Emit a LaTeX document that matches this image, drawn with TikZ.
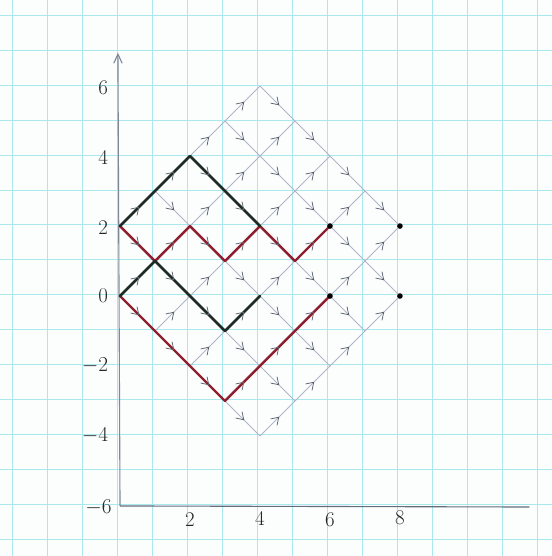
\documentclass[tikz,border=0pt]{standalone}
\usetikzlibrary{arrows.meta,decorations.markings}
\definecolor{gridc}{HTML}{A8E8EE}
\definecolor{latc}{HTML}{AEB6C6}
\definecolor{arrc}{HTML}{5A606C}
\definecolor{redp}{HTML}{8E1F2E}
\definecolor{blkp}{HTML}{1E2B24}
\definecolor{axc}{HTML}{7E8898}
\definecolor{paper}{HTML}{FCFEFE}
\begin{document}
\begin{tikzpicture}[x=1cm,y=1cm,
  gridline/.style={draw=gridc, line width=0.8pt},
  lat/.style={draw=latc, line width=0.7pt},
  midarrow/.style={postaction={decorate,decoration={markings,
      mark=at position 0.55 with {\arrow[arrc,line width=0.6pt]{Straight Barb[length=2mm,width=2.6mm]}}}}},
  redpath/.style={draw=redp, line width=2pt, line join=round, line cap=round},
  blkpath/.style={draw=blkp, line width=2.2pt, line join=round, line cap=round},
  axisline/.style={draw=axc, line width=0.9pt},
  dotmark/.style={circle, fill=black, inner sep=0pt, minimum size=1.6mm},
  lbl/.style={font=\fontsize{17}{17}\selectfont, text=black!85, inner sep=1pt}]
\useasboundingbox (-3.43,-7.43) rectangle (12.34,8.46);
\fill[paper] (-3.43,-7.43) rectangle (12.34,8.46);
% grid paper
\foreach \i in {-3,...,12}{\draw[gridline] (\i-0.08,-7.43) -- (\i-0.08,8.46);}
\foreach \j in {-7,...,8}{\draw[gridline] (-3.43,\j+0.03) -- (12.34,\j+0.03);}
% lattice points
\foreach \x in {0,...,8}{\foreach \y in {-4,...,6}{\coordinate (v\x_\y) at (\x,\y);}}
% axes
\coordinate (o) at (0,-6);
\coordinate (ytop) at (-0.06,6.95);
\coordinate (xend) at (11.7,-6.03);
\draw[axisline, -{Straight Barb[length=2.6mm,width=2.4mm]}] (o) -- (ytop);
\draw[axisline, draw=axc!80!black] (o) -- (xend);
% lattice lines
\foreach \c/\a/\b in {2/0/4,0/0/5,-2/1/6,-4/2/7,-6/3/8,-8/4/8}{
  \pgfmathtruncatemacro\bb{\b-1}
  \foreach \x in {\a,...,\bb}{
    \pgfmathtruncatemacro\y{\x+\c}
    \pgfmathtruncatemacro\xn{\x+1}
    \pgfmathtruncatemacro\yn{\y+1}
    \draw[lat] (v\x_\y) -- (v\xn_\yn);
  }}
\foreach \d/\a/\b in {0/0/4,2/0/5,4/1/6,6/2/7,8/3/8,10/4/8}{
  \pgfmathtruncatemacro\bb{\b-1}
  \foreach \x in {\a,...,\bb}{
    \pgfmathtruncatemacro\y{\d-\x}
    \pgfmathtruncatemacro\xn{\x+1}
    \pgfmathtruncatemacro\yn{\y-1}
    \draw[lat] (v\x_\y) -- (v\xn_\yn);
  }}
% coloured paths
\draw[redpath] (v0_2) -- (v1_1) -- (v2_2) -- (v3_1) -- (v4_2) -- (v5_1) -- (v6_2);
\draw[redpath] (v0_0) -- (v3_-3) -- (v6_0);
\draw[blkpath] (v0_2) -- (v2_4) -- (v4_2);
\draw[blkpath] (v0_0) -- (v1_1) -- (v3_-1) -- (v4_0);
% arrows on every step
\foreach \c/\a/\b in {2/0/4,0/0/5,-2/1/6,-4/2/7,-6/3/8,-8/4/8}{
  \pgfmathtruncatemacro\bb{\b-1}
  \foreach \x in {\a,...,\bb}{
    \pgfmathtruncatemacro\y{\x+\c}
    \pgfmathtruncatemacro\xn{\x+1}
    \pgfmathtruncatemacro\yn{\y+1}
    \path[midarrow] (v\x_\y) -- (v\xn_\yn);
  }}
\foreach \d/\a/\b in {0/0/4,2/0/5,4/1/6,6/2/7,8/3/8,10/4/8}{
  \pgfmathtruncatemacro\bb{\b-1}
  \foreach \x in {\a,...,\bb}{
    \pgfmathtruncatemacro\y{\d-\x}
    \pgfmathtruncatemacro\xn{\x+1}
    \pgfmathtruncatemacro\yn{\y-1}
    \path[midarrow] (v\x_\y) -- (v\xn_\yn);
  }}
% end dots
\node[dotmark] (d1) at (v6_2) {};
\node[dotmark] (d2) at (v6_0) {};
\node[dotmark] (d3) at (v8_2) {};
\node[dotmark] (d4) at (v8_0) {};
% labels
\node[lbl, anchor=east] (ly6) at (-0.3,5.95) {6};
\node[lbl, anchor=east] (ly4) at (-0.3,3.95) {4};
\node[lbl, anchor=east] (ly2) at (-0.3,1.95) {2};
\node[lbl, anchor=east] (ly0) at (-0.3,0) {0};
\node[lbl, anchor=east] (lym2) at (-0.3,-2) {$-2$};
\node[lbl, anchor=east] (lym4) at (-0.3,-4) {$-4$};
\node[lbl, anchor=east] (lym6) at (-0.2,-6.05) {$-6$};
\node[lbl] (lx2) at (2,-6.4) {2};
\node[lbl] (lx4) at (4,-6.35) {4};
\node[lbl] (lx6) at (6,-6.4) {6};
\node[lbl] (lx8) at (8,-6.35) {8};
\end{tikzpicture}
\end{document}
